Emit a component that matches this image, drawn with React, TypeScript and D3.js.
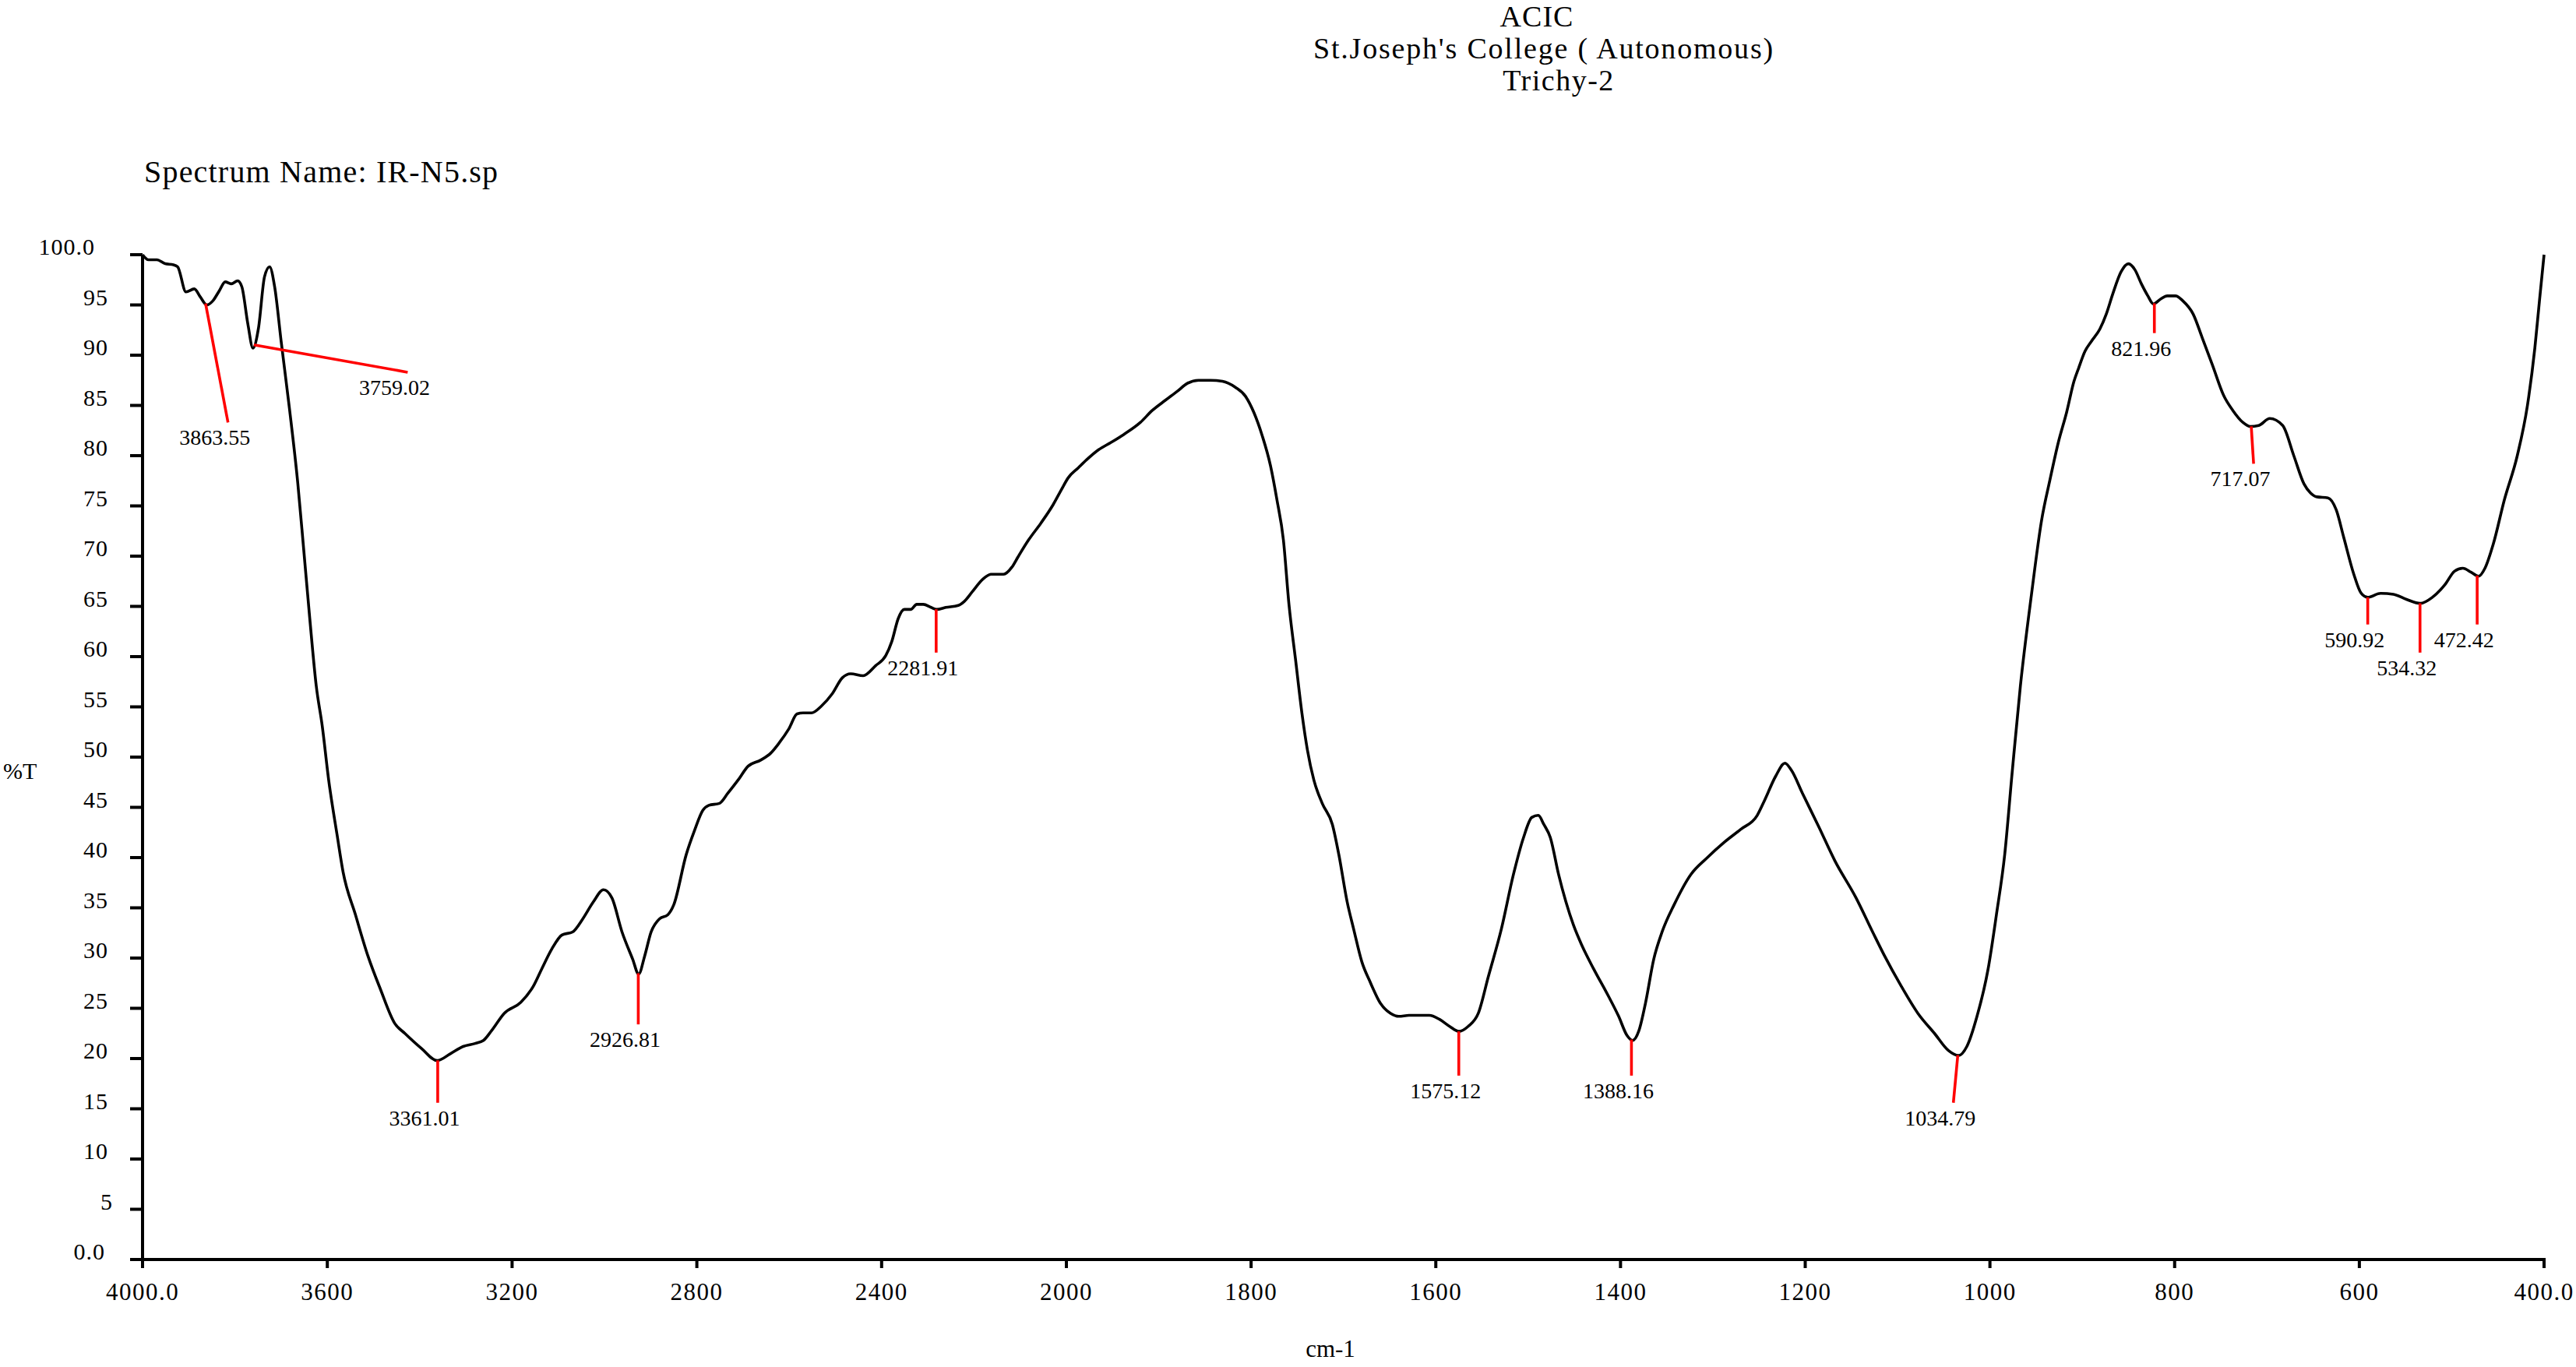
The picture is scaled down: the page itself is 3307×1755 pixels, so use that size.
import React from 'react';
import * as d3 from 'd3';

const W = 3307;
const H = 1755;

const titleLines = ["ACIC", "St.Joseph's College ( Autonomous)", "Trichy-2"];
const spectrumName = "Spectrum Name: IR-N5.sp";
const xAxisTitle = "cm-1";
const yAxisTitle = "%T";

const wavenumbers = [
  4000, 3987, 3969, 3951, 3933, 3924, 3906, 3888, 3875, 3861, 3848, 3834, 3821, 3808, 3794, 3785,
  3772, 3761, 3749, 3736, 3725, 3714, 3700, 3682, 3664, 3651, 3638, 3624, 3611, 3597, 3579, 3566,
  3539, 3512, 3485, 3454, 3432, 3396, 3362, 3333, 3306, 3280, 3262, 3244, 3217, 3181, 3154, 3136,
  3114, 3092, 3069, 3047, 3024, 3002, 2984, 2962, 2939, 2926, 2913, 2899, 2881, 2863, 2850, 2823,
  2805, 2787, 2774, 2751, 2733, 2711, 2689, 2662, 2640, 2622,
  2601, 2583, 2570, 2552, 2530, 2507, 2485, 2467, 2440, 2413, 2391, 2378, 2364, 2351, 2337, 2324,
  2310, 2293, 2281, 2261, 2234, 2221, 2203, 2181, 2163, 2136, 2118, 2105, 2082, 2055, 2029, 2011, 1998,
  1987, 1978, 1965, 1952, 1938, 1920, 1907, 1893, 1880, 1869, 1857, 1844, 1831, 1817, 1806, 1797,
  1788, 1779, 1772, 1765, 1759, 1752, 1745, 1739, 1732, 1723, 1712, 1705, 1696, 1689, 1680, 1671,
  1660, 1649, 1640, 1629, 1607,
  1596, 1585, 1575, 1565, 1554, 1543, 1529, 1516, 1505, 1496, 1489, 1483, 1476, 1467, 1451, 1442,
  1429, 1413, 1402, 1393, 1387, 1380, 1373, 1364, 1355, 1342, 1324, 1306, 1288, 1270, 1252, 1244,
  1232, 1222, 1215, 1203, 1185, 1168, 1145, 1127, 1114, 1096, 1078, 1060, 1045, 1034, 1025, 1014,
  1002, 993, 984, 976, 967, 955, 944, 935, 926, 917, 909,
  904, 897, 890, 881, 874, 867, 858, 850, 843, 836, 829, 823, 815, 808, 799, 791, 780, 770, 759,
  747, 737, 726, 718, 709, 697, 683, 671, 660, 653, 646, 634, 625, 617, 606, 598, 591, 577, 563,
  549, 534, 521, 507, 497, 488, 479, 471, 464, 455, 443, 429, 418, 410, 405, 400
];

const transmittance = [
  100, 99.5, 99.5, 99.1, 99.0, 98.8, 96.3, 96.6, 95.8, 95.0, 95.4, 96.4, 97.3, 97.1, 97.4, 96.8,
  93.1, 90.7, 92.7, 97.8, 98.8, 96.8, 91.4, 84.7, 77.3, 70.6, 63.8, 57.1, 53.1, 47.7, 42.3, 38.6,
  34.3, 30.2, 26.9, 23.5, 22.5, 21.0, 19.8, 20.5, 21.2, 21.5, 21.8, 22.8, 24.5, 25.6, 27.2, 28.9,
  30.9, 32.3, 32.6, 33.9, 35.6, 36.8, 36.0, 32.6, 29.9, 28.4, 30.2, 32.6, 33.9, 34.3, 35.3, 40.3,
  42.7, 44.7, 45.2, 45.4, 46.4, 47.7, 49.1, 49.7, 50.4, 51.4,
  52.8, 54.3, 54.4, 54.4, 55.1, 56.3, 57.9, 58.3, 58.1, 59.1, 60.1, 61.5, 63.8, 64.7, 64.7, 65.2,
  65.2, 64.9, 64.7, 64.9, 65.1, 65.5, 66.5, 67.7, 68.2, 68.2, 68.9, 69.9, 71.6, 73.3, 75.1, 76.6, 77.8,
  78.8, 79.6, 80.6, 81.3, 82.1, 83.3, 84.5, 85.5, 86.4, 87.2, 87.5, 87.5, 87.4, 86.8, 85.9, 84.3,
  82.0, 79.0, 75.6, 71.6, 65.2, 59.8, 54.4, 50.7, 47.7, 45.4, 43.3, 40.3, 35.6, 32.9, 29.6, 27.6,
  25.5, 24.5, 24.2, 24.3, 24.3,
  23.9, 23.2, 22.7, 23.2, 24.5, 28.2, 32.9, 38.3, 42.0, 44.0, 44.2, 43.3, 42.0, 38.3, 33.3, 31.3,
  28.9, 26.2, 24.2, 22.3, 21.8, 22.8, 25.5, 29.9, 32.6, 35.3, 38.3, 40.0, 41.5, 42.8, 44.2, 45.7,
  48.1, 49.4, 48.7, 46.4, 43.0, 39.7, 36.0, 32.6, 30.2, 27.2, 24.5, 22.5, 20.8, 20.3, 21.2, 24.2,
  28.9, 34.3, 40.3, 48.4, 57.1, 66.2, 73.6, 77.6, 81.3, 84.3, 87.4,
  88.7, 90.4, 91.4, 92.6, 94.1, 96.1, 98.3, 99.1, 98.5, 97.1, 95.9, 95.1, 95.6, 95.9, 95.9, 95.4, 94.1, 91.7, 89.0,
  86.0, 84.5, 83.3, 82.9, 83.0, 83.7, 83.0, 80.0, 77.2, 76.3, 75.9, 75.8, 74.6, 71.9, 68.2, 66.3, 65.9, 66.3, 66.2,
  65.7, 65.3, 65.9, 67.2, 68.5, 68.8, 68.4, 68.0, 68.8, 71.2, 75.6, 80.0, 85.0, 90.7, 95.4, 100
];

const peakLabels = ["3863.55", "3759.02", "3361.01", "2926.81", "2281.91", "1575.12", "1388.16", "1034.79", "821.96", "717.07", "590.92", "534.32", "472.42"];
const peakWavenumbers = [3863.55, 3759.02, 3361.01, 2926.81, 2281.91, 1575.12, 1388.16, 1034.79, 821.96, 717.07, 590.92, 534.32, 472.42];
const leaderEndWavenumbers = [3815, 3426, 3361.01, 2926.81, 2281.91, 1575.12, 1388.16, 1039.6, 821.96, 714.5, 590.92, 534.32, 472.42];
const leaderEndValues = [83.3, 88.3, 15.6, 23.4, 60.4, 18.3, 18.3, 15.6, 92.2, 79.2, 63.2, 60.4, 63.2];

const xTickValues = [4000, 3600, 3200, 2800, 2400, 2000, 1800, 1600, 1400, 1200, 1000, 800, 600, 400];
const xTickLabels = ["4000.0", "3600", "3200", "2800", "2400", "2000", "1800", "1600", "1400", "1200", "1000", "800", "600", "400.0"];
const yTickValues = [0, 5, 10, 15, 20, 25, 30, 35, 40, 45, 50, 55, 60, 65, 70, 75, 80, 85, 90, 95, 100];
const yTickLabels = ["0.0", "5", "10", "15", "20", "25", "30", "35", "40", "45", "50", "55", "60", "65", "70", "75", "80", "85", "90", "95", "100.0"];

const FONT = "'Liberation Serif', 'Times New Roman', serif";

function valueAt(w: number): number {
  for (let i = 0; i < wavenumbers.length - 1; i++) {
    const a = wavenumbers[i];
    const b = wavenumbers[i + 1];
    if (w <= a && w >= b) {
      const t = (a - w) / (a - b);
      return transmittance[i] + t * (transmittance[i + 1] - transmittance[i]);
    }
  }
  return transmittance[transmittance.length - 1];
}

export default function App() {
  const x = d3.scaleLinear().domain([4000, 2000, 400]).range([183, 1369, 3266]);
  const y = d3.scaleLinear().domain([0, 100]).range([1617, 327]);

  const pts: [number, number][] = wavenumbers.map((w, i) => [w, transmittance[i]]);
  const line = d3
    .line<[number, number]>()
    .x((d) => x(d[0]))
    .y((d) => y(d[1]))
    .curve(d3.curveMonotoneX);

  const x0 = x(4000);
  const x1 = x(400);
  const yb = y(0);
  const yt = y(100);

  return (
    <div style={{ position: 'absolute', left: 0, top: 0 }}>
      <svg width={W} height={H} viewBox={`0 0 ${W} ${H}`} style={{ display: 'block', background: '#fff' }}>
        <rect x={0} y={0} width={W} height={H} fill="#fff" />
        <g fontFamily={FONT} fill="#000">
          <text x={1973} y={34} fontSize={38} textAnchor="middle" letterSpacing={1}>{titleLines[0]}</text>
          <text x={1982} y={75} fontSize={38} textAnchor="middle" letterSpacing={1.8}>{titleLines[1]}</text>
          <text x={2001} y={116} fontSize={38} textAnchor="middle" letterSpacing={1.5}>{titleLines[2]}</text>
          <text x={185} y={234} fontSize={40} letterSpacing={1.2}>{spectrumName}</text>
          <text x={4} y={1000} fontSize={30}>{yAxisTitle}</text>
          <text x={1708} y={1742} fontSize={31} textAnchor="middle">{xAxisTitle}</text>
        </g>

        {/* axes */}
        <g stroke="#000" strokeWidth={4} fill="none">
          <line x1={x0} y1={yt} x2={x0} y2={yb + 2} />
          <line x1={x0 - 2} y1={yb} x2={x1 + 2} y2={yb} />
          {yTickValues.map((v) => (
            <line key={'yt' + v} x1={x0 - 16} x2={x0} y1={y(v)} y2={y(v)} />
          ))}
          {xTickValues.map((v) => (
            <line key={'xt' + v} x1={x(v)} x2={x(v)} y1={yb} y2={yb + 11} />
          ))}
        </g>
        <g fontFamily={FONT} fontSize={30} fill="#000">
          {yTickValues.map((v, i) => (
            <text key={'yl' + v} x={v === 100 ? 122 : v === 0 ? 135 : v === 5 ? 145 : 139} y={y(v)} textAnchor="end" letterSpacing={1}>
              {yTickLabels[i]}
            </text>
          ))}
          {xTickValues.map((v, i) => (
            <text key={'xl' + v} x={x(v)} y={1669} textAnchor="middle" fontSize={31} letterSpacing={1.5}>
              {xTickLabels[i]}
            </text>
          ))}
        </g>

        {/* spectrum */}
        <path d={line(pts) || ''} fill="none" stroke="#000" strokeWidth={3.6} strokeLinejoin="round" />

        {/* peak annotations */}
        <g>
          {peakWavenumbers.map((w, i) => {
            const px = x(w);
            const py = y(valueAt(w));
            const ex = x(leaderEndWavenumbers[i]);
            const ey = y(leaderEndValues[i]);
            return (
              <g key={'pk' + i}>
                <line x1={px} y1={py} x2={ex} y2={ey} stroke="#ff0000" strokeWidth={3.6} />
                <text x={ex - 17} y={ey + 29} fontFamily={FONT} fontSize={28} textAnchor="middle" fill="#000">
                  {peakLabels[i]}
                </text>
              </g>
            );
          })}
        </g>
      </svg>
    </div>
  );
}
